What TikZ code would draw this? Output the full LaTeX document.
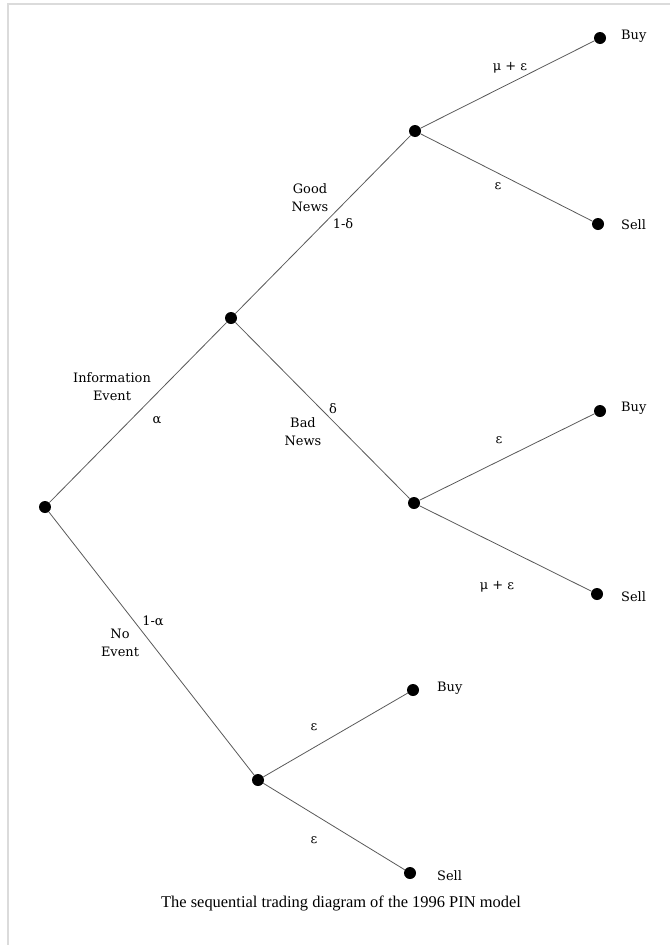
\documentclass[tikz,border=0pt]{standalone}
\usepackage{fontspec}
\setmainfont{Liberation Serif}
\newfontfamily\lblfont{DejaVu Serif}
\begin{document}
\begin{tikzpicture}[x=1bp,y=-1bp,
  dot/.style={circle,fill=black,inner sep=0pt,minimum size=12bp},
  edge/.style={draw=black!65,line width=0.8bp},
  lbl/.style={font=\lblfont\fontsize{13}{18}\selectfont,inner sep=0pt,align=center},
  leaf/.style={font=\lblfont\fontsize{13}{18}\selectfont,inner sep=0pt,anchor=west}]
\useasboundingbox (0,0) rectangle (670,945);
\draw[draw=black!14,line width=2bp] (8,945) -- (8,4) -- (670,4);
% nodes
\node[dot] (r) at (45,507) {};
\node[dot] (ie) at (231,318) {};
\node[dot] (gn) at (415,131) {};
\node[dot] (b1) at (600,38) {};
\node[dot] (s1) at (598,224) {};
\node[dot] (bn) at (414,503) {};
\node[dot] (b2) at (600,411) {};
\node[dot] (s2) at (597,594) {};
\node[dot] (ne) at (258,780) {};
\node[dot] (b3) at (413,690) {};
\node[dot] (s3) at (410,873) {};
% edges
\draw[edge] (r) -- (ie);
\draw[edge] (ie) -- (gn);
\draw[edge] (gn) -- (b1);
\draw[edge] (gn) -- (s1);
\draw[edge] (ie) -- (bn);
\draw[edge] (bn) -- (b2);
\draw[edge] (bn) -- (s2);
\draw[edge] (r) -- (ne);
\draw[edge] (ne) -- (b3);
\draw[edge] (ne) -- (s3);
% leaf labels
\node[leaf] (tb1) at (621,36) {Buy};
\node[leaf] (ts1) at (621,225) {Sell};
\node[leaf] (tb2) at (621,408) {Buy};
\node[leaf] (ts2) at (621,597) {Sell};
\node[leaf] (tb3) at (437,688) {Buy};
\node[leaf] (ts3) at (437,876) {Sell};
% edge labels
\node[lbl] (l1) at (510,68) {μ + ε};
\node[lbl] (l2) at (498,186) {ε};
\node[lbl] (l3) at (310,198) {Good\\News};
\node[lbl] (l4) at (343,224) {1-δ};
\node[lbl] (l5) at (112,387) {Information\\Event};
\node[lbl] (l6) at (157,420) {α};
\node[lbl] (l7) at (333,409) {δ};
\node[lbl] (l8) at (303,432) {Bad\\News};
\node[lbl] (l9) at (499,440) {ε};
\node[lbl] (l10) at (497,587) {μ + ε};
\node[lbl] (l11) at (153,621) {1-α};
\node[lbl] (l12) at (120,643) {No\\Event};
\node[lbl] (l13) at (314,727) {ε};
\node[lbl] (l14) at (314,840) {ε};
% caption
\node[inner sep=0pt,font=\fontsize{16.5}{18}\selectfont] (cap) at (341,903) {The sequential trading diagram of the 1996 PIN model};
\end{tikzpicture}
\end{document}
